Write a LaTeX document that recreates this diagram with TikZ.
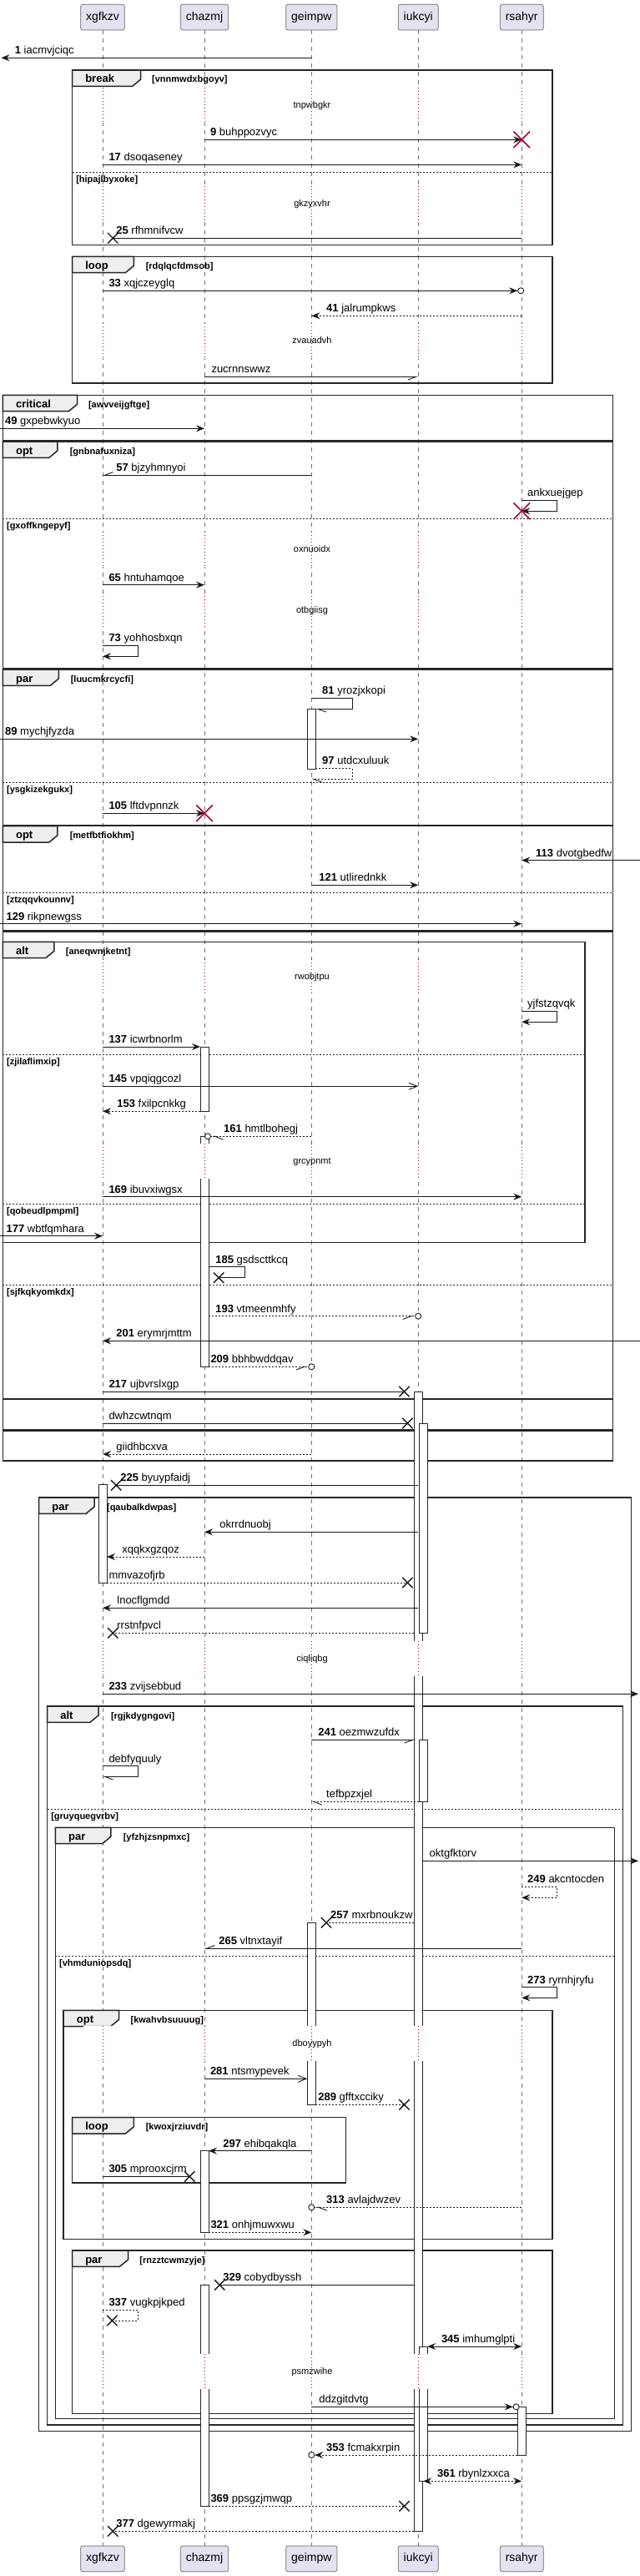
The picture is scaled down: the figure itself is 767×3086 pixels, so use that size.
\documentclass[tikz,border=0pt]{standalone}
\usepackage{fontspec}
\setmainfont{Liberation Sans}
\usepackage{tikz}
\usetikzlibrary{arrows.meta,positioning,shapes.misc}

\definecolor{partfill}{HTML}{E2E2F0}
\definecolor{tabfill}{HTML}{EEEEEE}
\definecolor{killred}{HTML}{A80036}

\tikzset{
    hd/.tip={Stealth[length=10pt,width=8pt,inset=3.5pt]},
    obarb/.tip={Straight Barb[length=10pt,width=8pt]},
    hbl/.tip={Straight Barb[length=10pt,width=7.5pt,left]},
    hbr/.tip={Straight Barb[length=10pt,width=7.5pt,right]},
    hbls/.tip={Straight Barb[length=10pt,width=7.5pt,left,sep=2pt]},
    hbrs/.tip={Straight Barb[length=10pt,width=7.5pt,right,sep=2pt]},
    rng/.tip={Circle[length=8pt,fill=white]},
}

\newcommand\seqframe[9]{%
    \draw[frm] (#2,#3) rectangle (#4,#5);
    \draw[tabbox] (#2,#3) -- (#6,#3) -- (#6,#3+11) -- (#6-10,#3+19.3) -- (#2,#3+19.3) -- cycle;
    \node[tabtxt] (#1) at (#2+15.5,#3+15) {#7};
    \node[cond] (#1c) at (#8,#3+15) {[#9]};
}
\newcommand\elsesep[5]{%
    \draw[elseline] (#2,#4) -- (#3,#4);
    \node[cond] (#1) at (#2+4.5,#4+12.3) {[#5]};
}
\newcommand\seqdelay[3]{%
    \fill[white] (100,#2-21) rectangle (650,#2+21);
    \foreach \lx in {xgfkzv,chazmj,geimpw,iukcyi,rsahyr}
        \draw[dly] (\lx |- 0,#2-21) -- (\lx |- 0,#2+21);
    \node[dtxt] (#1) at (374,#2+3.5) {#3};
}

\begin{document}
\begin{tikzpicture}[
    x=1pt, y=-1pt,
    party/.style={
        draw=black!60,
        fill=partfill,
        rounded corners=2.5pt,
        line width=0.7pt,
        minimum height=30.7pt,
        inner xsep=6.5pt,
        font=\fontsize{14}{16}\selectfont,
    },
    life/.style={draw=black!55, line width=0.6pt, dash pattern=on 5pt off 5pt},
    frm/.style={draw=black!85, line width=1.5pt},
    tabbox/.style={frm, fill=tabfill},
    tabtxt/.style={anchor=base west, inner sep=0pt, font=\fontsize{13}{15}\selectfont\bfseries},
    cond/.style={anchor=base west, inner sep=0pt, font=\fontsize{11}{13}\selectfont\bfseries},
    elseline/.style={draw=black!85, line width=0.8pt, dash pattern=on 2pt off 2pt},
    act/.style={draw=black!85, line width=0.8pt, fill=white},
    dly/.style={draw=killred, line width=0.8pt, dash pattern=on 1pt off 3pt},
    dtxt/.style={anchor=base, inner sep=0pt, font=\fontsize{11}{13}\selectfont},
    lbl/.style={anchor=base west, inner sep=0pt, font=\fontsize{13}{15}\selectfont},
    wire/.style={draw=black!90, line width=0.9pt},
    rwire/.style={wire, dash pattern=on 2pt off 2pt},
    msg/.style={wire, -hd},
    reply/.style={rwire, -hd},
    openmsg/.style={wire, -obarb},
    xend/.style={cross out, draw=black!90, line width=1.4pt, minimum size=11pt, inner sep=0pt},
    kill/.style={cross out, draw=killred, line width=1.6pt, minimum size=18pt, inner sep=0pt},
]
\useasboundingbox (0,0) rectangle (767,3086);

\coordinate (ledge) at (0,0);
\coordinate (redge) at (767,0);

\node[party] (xgfkzv) at (123,20.65) {xgfkzv};
\node[party] (chazmj) at (245,20.65) {chazmj};
\node[party] (geimpw) at (373.3,20.65) {geimpw};
\node[party] (iukcyi) at (501.2,20.65) {iukcyi};
\node[party] (rsahyr) at (625.2,20.65) {rsahyr};
\node[party] (xgfkzvB) at (123,3065.3) {xgfkzv};
\node[party] (chazmjB) at (245,3065.3) {chazmj};
\node[party] (geimpwB) at (373.3,3065.3) {geimpw};
\node[party] (iukcyiB) at (501.2,3065.3) {iukcyi};
\node[party] (rsahyrB) at (625.2,3065.3) {rsahyr};

\foreach \p in {xgfkzv,chazmj,geimpw,iukcyi,rsahyr}
    \draw[life] (\p.south) -- (\p B.north);

\seqframe{brk}{86.6}{84}{662.1}{293.3}{168.7}{break}{182}{vnnmwdxbgoyv}
\elsesep{brke}{86.6}{662.1}{206}{hipajlbyxoke}
\seqframe{lp}{86.6}{307.3}{662.1}{459}{160.4}{loop}{174.6}{rdqlqcfdmsob}
\seqframe{crit}{3.4}{473.3}{734.4}{527.3}{92.5}{critical}{105.8}{awvveijgftge}
\seqframe{opta}{3.4}{529}{734.4}{800.7}{68.9}{opt}{83.6}{gnbnafuxniza}
\elsesep{optae}{3.4}{734.4}{621.3}{gxoffkngepyf}
\seqframe{para}{3.4}{802}{734.4}{988.3}{70.3}{par}{84.6}{luucmkrcycfi}
\elsesep{parae}{3.4}{734.4}{937.3}{ysgkizekgukx}
\seqframe{optb}{3.4}{989.7}{734.4}{1114.7}{68.9}{opt}{83.6}{metfbtfiokhm}
\elsesep{optbe}{3.4}{734.4}{1069.3}{ztzqqvkounnv}
\draw[frm] (3.4,1116) rectangle (734.4,1675.7);
\elsesep{grpae}{3.4}{734.4}{1539}{sjfkqkyomkdx}
\seqframe{alta}{3.4}{1128.3}{701}{1488.3}{64.9}{alt}{78.7}{aneqwnjketnt}
\elsesep{altae}{3.4}{701}{1263.3}{zjilaflimxip}
\elsesep{altaf}{3.4}{701}{1442.3}{qobeudlpmpml}
\draw[frm] (3.4,1676.7) rectangle (734.4,1713);
\draw[frm] (3.4,1714) rectangle (734.4,1750);
\seqframe{parb}{46.7}{1794}{756.5}{2912.3}{113.1}{par}{127.9}{qaubalkdwpas}
\seqframe{altb}{56.6}{2044}{746.7}{2905}{118}{alt}{132.8}{rgjkdygngovi}
\elsesep{altbe}{56.6}{746.7}{2167}{gruyquegvrbv}
\seqframe{parc}{66.4}{2189.3}{736.4}{2897.7}{132.8}{par}{147.6}{yfzhjzsnpmxc}
\elsesep{parce}{66.4}{736.4}{2343.3}{vhmduniopsdq}
\seqframe{optc}{76.2}{2408.3}{662.1}{2682.3}{142.6}{opt}{156.4}{kwahvbsuuuug}
\seqframe{lpb}{86.6}{2536.7}{414.7}{2615}{160.4}{loop}{174.6}{kwoxjrziuvdr}
\seqframe{pard}{86.6}{2696}{662.1}{2891.7}{153.5}{par}{167.2}{rnzztcwmzyje}

\draw[act] (368.3,849.3) rectangle (378.3,921);
\draw[act] (240,1254) rectangle (250,1331.7);
\draw[act] (240,1361.3) rectangle (250,1637.3);
\draw[act] (496.5,1667) rectangle (506.5,3032.3);
\draw[act] (502,1705) rectangle (512,1956.3);
\draw[act] (118,1778.3) rectangle (128,1896);
\draw[act] (502,2084.3) rectangle (512,2158.3);
\draw[act] (368.3,2303.3) rectangle (378.3,2521.3);
\draw[act] (240,2576.7) rectangle (250,2674.3);
\draw[act] (240,2737.3) rectangle (250,3002.3);
\draw[act] (502,2811) rectangle (512,2972.3);
\draw[act] (620.2,2883.3) rectangle (630.2,2941);

\seqdelay{d1}{126}{tnpwbgkr}
\seqdelay{d2}{243.7}{gkzyxvhr}
\seqdelay{d3}{408.3}{zvauadvh}
\seqdelay{d4}{658}{oxnuoidx}
\seqdelay{d5}{730.7}{otbgiisg}
\seqdelay{d6}{1170}{rwobjtpu}
\seqdelay{d7}{1391.3}{grcypnmt}
\seqdelay{d8}{1986.7}{ciqliqbg}
\seqdelay{d9}{2448.3}{dboyypyh}
\seqdelay{d10}{2841}{psmzwihe}

\draw[msg] (geimpw |- 0,69.3) -- ([xshift=1.5pt]ledge |- 0,69.3);
\node[lbl] (m1) at (17.7,64.8) {\textbf{1} iacmvjciqc};

\draw[msg] (chazmj |- 0,167.3) -- (rsahyr |- 0,167.3);
\node[kill] (k9) at (rsahyr |- 0,167.3) {};
\node[lbl] (m9) at (251.8,162.8) {\textbf{9} buhppozvyc};

\draw[msg] (xgfkzv |- 0,197.3) -- (rsahyr |- 0,197.3);
\node[lbl] (m17) at (130.3,192.8) {\textbf{17} dsoqaseney};

\node[xend] (x25) at (135.3,285.3) {};
\draw[wire] (rsahyr |- 0,285.3) -- (x25.center);
\node[lbl] (m25) at (139.2,280.8) {\textbf{25} rfhmnifvcw};

\draw[wire, -{hd[] rng[]}] (xgfkzv |- 0,348.3) -- ([xshift=3pt]rsahyr |- 0,348.3);
\node[lbl] (m33) at (130.3,343.8) {\textbf{33} xqjczeyglq};

\draw[reply] (rsahyr |- 0,378.3) -- (geimpw |- 0,378.3);
\node[lbl] (m41) at (391,373.8) {\textbf{41} jalrumpkws};

\draw[wire, -hbr] (chazmj |- 0,451.3) -- (iukcyi |- 0,451.3);
\node[lbl] (mzuc) at (253.3,446.8) {zucrnnswwz};

\draw[msg] (ledge |- 0,513.3) -- (chazmj |- 0,513.3);
\node[lbl] (m49) at (5.9,508.8) {\textbf{49} gxpebwkyuo};

\draw[wire, -hbr] (geimpw |- 0,569.3) -- (xgfkzv |- 0,569.3);
\node[lbl] (m57) at (139.2,564.8) {\textbf{57} bjzyhmnyoi};

\draw[msg] (rsahyr |- 0,599.3) -- ++(42,0) -- ++(0,13) -- (rsahyr |- 0,612.3);
\node[kill] (kank) at (rsahyr |- 0,612.3) {};
\node[lbl] (mank) at (632,594.8) {ankxuejgep};

\draw[msg] (xgfkzv |- 0,700.7) -- (chazmj |- 0,700.7);
\node[lbl] (m65) at (130.3,696.2) {\textbf{65} hntuhamqoe};

\draw[msg] (xgfkzv |- 0,773.3) -- ++(42.3,0) -- ++(0,13) -- (xgfkzv |- 0,786.3);
\node[lbl] (m73) at (130.3,768.8) {\textbf{73} yohhosbxqn};

\draw[wire, -hbl] (geimpw |- 0,836) -- ++(48.7,0) -- ++(0,13.3) -- ([xshift=5pt]geimpw |- 0,849.3);
\node[lbl] (m81) at (386,831.5) {\textbf{81} yrozjxkopi};

\draw[msg] (ledge |- 0,885.3) -- (iukcyi |- 0,885.3);
\node[lbl] (m89) at (5.9,880.8) {\textbf{89} mychjfyzda};

\draw[rwire, -hbl] ([xshift=5pt]geimpw |- 0,920.3) -- ++(43.7,0) -- ++(0,13) -- (geimpw |- 0,933.3);
\node[lbl] (m97) at (386,915.8) {\textbf{97} utdcxuluuk};

\draw[msg] (xgfkzv |- 0,974.3) -- (chazmj |- 0,974.3);
\node[kill] (k105) at (chazmj |- 0,974.3) {};
\node[lbl] (m105) at (130.3,969.8) {\textbf{105} lftdvpnnzk};

\draw[msg] (redge |- 0,1030.7) -- (rsahyr |- 0,1030.7);
\node[lbl] (m113) at (642,1026.2) {\textbf{113} dvotgbedfw};

\draw[msg] (geimpw |- 0,1060.3) -- (iukcyi |- 0,1060.3);
\node[lbl] (m121) at (382.2,1055.8) {\textbf{121} utlirednkk};

\draw[msg] (ledge |- 0,1106.7) -- (rsahyr |- 0,1106.7);
\node[lbl] (m129) at (7.4,1102.2) {\textbf{129} rikpnewgss};

\draw[msg] (rsahyr |- 0,1211.3) -- ++(42,0) -- ++(0,13) -- (rsahyr |- 0,1224.3);
\node[lbl] (myjf) at (632,1206.8) {yjfstzqvqk};

\draw[msg] (xgfkzv |- 0,1254) -- ([xshift=-5pt]chazmj |- 0,1254);
\node[lbl] (m137) at (130.3,1249.5) {\textbf{137} icwrbnorlm};

\draw[openmsg] (xgfkzv |- 0,1301.3) -- (iukcyi |- 0,1301.3);
\node[lbl] (m145) at (130.3,1296.8) {\textbf{145} vpqiqgcozl};

\draw[reply] ([xshift=-5pt]chazmj |- 0,1331.3) -- (xgfkzv |- 0,1331.3);
\node[lbl] (m153) at (140.2,1326.8) {\textbf{153} fxilpcnkkg};

\draw[rwire, -{hbls[] rng[]}] (geimpw |- 0,1361.3) -- (chazmj |- 0,1361.3);
\node[lbl] (m161) at (268,1356.8) {\textbf{161} hmtlbohegj};

\draw[msg] (xgfkzv |- 0,1433.7) -- (rsahyr |- 0,1433.7);
\node[lbl] (m169) at (130.3,1429.2) {\textbf{169} ibuvxiwgsx};

\draw[msg] (ledge |- 0,1480.7) -- (xgfkzv |- 0,1480.7);
\node[lbl] (m177) at (7.4,1476.2) {\textbf{177} wbtfqmhara};

\node[xend] (x185) at (262.2,1530.7) {};
\draw[wire] ([xshift=5pt]chazmj |- 0,1517.7) -- ++(43.2,0) -- ++(0,13) -- (x185.center);
\node[lbl] (m185) at (258.2,1513.2) {\textbf{185} gsdscttkcq};

\draw[rwire, -{hbrs[] rng[]}] ([xshift=5pt]chazmj |- 0,1576.7) -- ([xshift=4pt]iukcyi |- 0,1576.7);
\node[lbl] (m193) at (258.2,1572.2) {\textbf{193} vtmeenmhfy};

\draw[msg] (redge |- 0,1606.3) -- (xgfkzv |- 0,1606.3);
\node[lbl] (m201) at (139.2,1601.8) {\textbf{201} erymrjmttm};

\draw[rwire, -{hbrs[] rng[]}] ([xshift=5pt]chazmj |- 0,1637.3) -- ([xshift=4pt]geimpw |- 0,1637.3);
\node[lbl] (m209) at (252.3,1632.8) {\textbf{209} bbhbwddqav};

\node[xend] (x217) at (484.5,1667) {};
\draw[wire] (xgfkzv |- 0,1667) -- (x217.center);
\node[lbl] (m217) at (130.3,1662.5) {\textbf{217} ujbvrslxgp};

\node[xend] (xdwh) at (488.4,1705) {};
\draw[wire] (xgfkzv |- 0,1705) -- (xdwh.center);
\node[lbl] (mdwh) at (130.3,1700.5) {dwhzcwtnqm};

\draw[reply] (geimpw |- 0,1742) -- (xgfkzv |- 0,1742);
\node[lbl] (mgii) at (139.2,1737.5) {giidhbcxva};

\node[xend] (x225) at (139.2,1779.3) {};
\draw[wire] (iukcyi |- 0,1779.3) -- (x225.center);
\node[lbl] (m225) at (144.1,1774.8) {\textbf{225} byuypfaidj};

\draw[msg] (iukcyi |- 0,1835.3) -- (chazmj |- 0,1835.3);
\node[lbl] (mokr) at (263.2,1830.8) {okrrdnuobj};

\draw[reply] (chazmj |- 0,1865) -- ([xshift=5pt]xgfkzv |- 0,1865);
\node[lbl] (mxqq) at (146.1,1860.5) {xqqkxgzqoz};

\node[xend] (xmmv) at (488.4,1896) {};
\draw[rwire] ([xshift=5pt]xgfkzv |- 0,1896) -- (xmmv.center);
\node[lbl] (mmmv) at (130.3,1891.5) {mmvazofjrb};

\draw[msg] (iukcyi |- 0,1926.3) -- (xgfkzv |- 0,1926.3);
\node[lbl] (mlno) at (140.2,1921.8) {lnocflgmdd};

\node[xend] (xrrs) at (135.3,1956.3) {};
\draw[rwire] ([xshift=-5pt]iukcyi |- 0,1956.3) -- (xrrs.center);
\node[lbl] (mrrs) at (140.2,1951.8) {rrstnfpvcl};

\draw[msg] (xgfkzv |- 0,2029.3) -- ([xshift=-2pt]redge |- 0,2029.3);
\node[lbl] (m233) at (130.3,2024.8) {\textbf{233} zvijsebbud};

\draw[wire, -hbr] (geimpw |- 0,2084.3) -- ([xshift=-4pt]iukcyi |- 0,2084.3);
\node[lbl] (m241) at (381.2,2079.8) {\textbf{241} oezmwzufdx};

\draw[wire, -hbl] (xgfkzv |- 0,2115.7) -- ++(42.3,0) -- ++(0,12.6) -- (xgfkzv |- 0,2128.3);
\node[lbl] (mdeb) at (130.3,2111.2) {debfyquuly};

\draw[rwire, -hbl] ([xshift=1pt]iukcyi |- 0,2158.3) -- (geimpw |- 0,2158.3);
\node[lbl] (mtef) at (391,2153.8) {tefbpzxjel};

\draw[msg] ([xshift=5pt]iukcyi |- 0,2229.3) -- ([xshift=-2pt]redge |- 0,2229.3);
\node[lbl] (mokt) at (514.5,2224.8) {oktgfktorv};

\draw[reply] (rsahyr |- 0,2260) -- ++(42,0) -- ++(0,13.3) -- (rsahyr |- 0,2273.3);
\node[lbl] (m249) at (632,2255.5) {\textbf{249} akcntocden};

\node[xend] (x257) at (391,2303.3) {};
\draw[rwire] ([xshift=-5pt]iukcyi |- 0,2303.3) -- (x257.center);
\node[lbl] (m257) at (396,2298.8) {\textbf{257} mxrbnoukzw};

\draw[wire, -hbr] (rsahyr |- 0,2334.3) -- (chazmj |- 0,2334.3);
\node[lbl] (m265) at (262.2,2329.8) {\textbf{265} vltnxtayif};

\draw[msg] (rsahyr |- 0,2380.7) -- ++(42,0) -- ++(0,12.6) -- (rsahyr |- 0,2393.3);
\node[lbl] (m273) at (632,2376.2) {\textbf{273} ryrnhjryfu};

\draw[openmsg] (chazmj |- 0,2490.3) -- ([xshift=-5pt]geimpw |- 0,2490.3);
\node[lbl] (m281) at (251.8,2485.8) {\textbf{281} ntsmypevek};

\node[xend] (x289) at (484.5,2521.3) {};
\draw[rwire] ([xshift=5pt]geimpw |- 0,2521.3) -- (x289.center);
\node[lbl] (m289) at (381.2,2516.8) {\textbf{289} gfftxcciky};

\draw[msg] (geimpw |- 0,2576.7) -- ([xshift=5pt]chazmj |- 0,2576.7);
\node[lbl] (m297) at (267.1,2572.2) {\textbf{297} ehibqakqla};

\node[xend] (x305) at (227.3,2607.3) {};
\draw[wire] (xgfkzv |- 0,2607.3) -- (x305.center);
\node[lbl] (m305) at (130.3,2602.8) {\textbf{305} mprooxcjrm};

\draw[rwire, -{hbls[] rng[]}] (rsahyr |- 0,2644.3) -- ([xshift=-4pt]geimpw |- 0,2644.3);
\node[lbl] (m313) at (391,2639.8) {\textbf{313} avlajdwzev};

\draw[reply] ([xshift=5pt]chazmj |- 0,2674.3) -- (geimpw |- 0,2674.3);
\node[lbl] (m321) at (252.3,2669.8) {\textbf{321} onhjmuwxwu};

\node[xend] (x329) at (263.2,2737.3) {};
\draw[wire] ([xshift=-5pt]iukcyi |- 0,2737.3) -- (x329.center);
\node[lbl] (m329) at (267.1,2732.8) {\textbf{329} cobydbyssh};

\node[xend] (x337) at (134.3,2780) {};
\draw[rwire] (xgfkzv |- 0,2767.3) -- ++(42.3,0) -- ++(0,12.7) -- (x337.center);
\node[lbl] (m337) at (130.3,2762.8) {\textbf{337} vugkpjkped};

\draw[wire, hd-hd] ([xshift=11pt]iukcyi |- 0,2811) -- (rsahyr |- 0,2811);
\node[lbl] (m345) at (528.8,2806.5) {\textbf{345} imhumglpti};

\draw[wire, -{hd[] rng[]}] (geimpw |- 0,2883.3) -- ([xshift=-2.5pt]rsahyr |- 0,2883.3);
\node[lbl] (mddz) at (382.2,2878.8) {ddzgitdvtg};

\draw[rwire, -{hd[] rng[]}] ([xshift=-5pt]rsahyr |- 0,2941) -- ([xshift=-4pt]geimpw |- 0,2941);
\node[lbl] (m353) at (391,2936.5) {\textbf{353} fcmakxrpin};

\draw[rwire, hd-hd] ([xshift=6pt]iukcyi |- 0,2972.3) -- (rsahyr |- 0,2972.3);
\node[lbl] (m361) at (523.9,2967.8) {\textbf{361} rbynlzxxca};

\node[xend] (x369) at (484.5,3002.3) {};
\draw[rwire] ([xshift=5pt]chazmj |- 0,3002.3) -- (x369.center);
\node[lbl] (m369) at (252.3,2997.8) {\textbf{369} ppsgzjmwqp};

\node[xend] (x377) at (135.3,3032.3) {};
\draw[rwire] ([xshift=-5pt]iukcyi |- 0,3032.3) -- (x377.center);
\node[lbl] (m377) at (139.2,3027.8) {\textbf{377} dgewyrmakj};
\end{tikzpicture}
\end{document}
